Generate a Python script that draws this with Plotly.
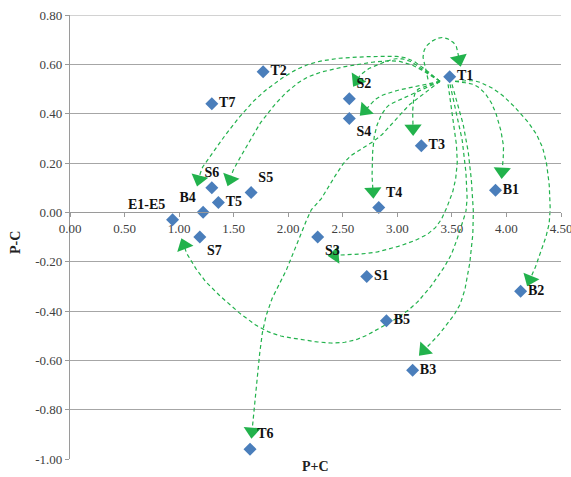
import numpy as np
import plotly.graph_objects as go

# ---- data ----
labels = ["T1", "T2", "T7", "S2", "S4", "T3", "B1", "T4", "S6", "S5", "T5", "B4",
          "E1-E5", "S7", "S3", "S1", "B2", "B5", "B3", "T6"]
p_plus_c = [3.48, 1.77, 1.30, 2.56, 2.56, 3.22, 3.90, 2.83, 1.30, 1.66, 1.36, 1.22,
            0.94, 1.19, 2.27, 2.72, 4.13, 2.90, 3.14, 1.65]
p_minus_c = [0.55, 0.57, 0.44, 0.46, 0.38, 0.27, 0.09, 0.02, 0.10, 0.08, 0.04, 0.00,
             -0.03, -0.10, -0.10, -0.26, -0.32, -0.44, -0.64, -0.96]
label_pos = ["middle right", "middle right", "middle right", "top right", "bottom right",
             "middle right", "middle right", "top right", "top center", "top right",
             "middle right", "top left", "top left", "bottom right", "bottom right",
             "middle right", "middle right", "middle right", "middle right", "top right"]

x_ticks = [0, 0.5, 1, 1.5, 2, 2.5, 3, 3.5, 4, 4.5]
y_ticks = [-1.0, -0.8, -0.6, -0.4, -0.2, 0.0, 0.2, 0.4, 0.6, 0.8]

# influence arrows from T1 (waypoints in data units, smoothed)
arrows = {
    "T1": [(3.281, 0.539), (3.236, 0.628), (3.281, 0.681), (3.410, 0.709), (3.529, 0.681), (3.566, 0.620)],
    "B4": [(3.391, 0.531), (3.116, 0.620), (2.841, 0.632), (2.383, 0.620), (2.081, 0.580), (1.769, 0.486),
           (1.558, 0.389), (1.375, 0.284), (1.219, 0.186), (1.182, 0.134)],
    "T5": [(3.391, 0.531), (3.116, 0.600), (2.841, 0.612), (2.291, 0.567), (2.016, 0.499), (1.769, 0.377),
           (1.622, 0.268), (1.512, 0.186), (1.467, 0.134)],
    "S2": [(3.391, 0.531), (3.071, 0.620), (2.823, 0.600), (2.676, 0.563), (2.631, 0.535)],
    "S4": [(3.391, 0.531), (3.116, 0.507), (2.841, 0.470), (2.704, 0.413)],
    "T3": [(3.391, 0.531), (3.190, 0.499), (3.144, 0.438), (3.144, 0.340)],
    "T4": [(3.391, 0.531), (3.025, 0.458), (2.887, 0.418), (2.796, 0.324), (2.768, 0.186), (2.777, 0.085)],
    "T6": [(3.391, 0.531), (3.116, 0.438), (2.841, 0.308), (2.539, 0.215), (2.319, 0.065), (2.200, 0.000),
           (2.016, -0.203), (1.861, -0.340), (1.769, -0.474), (1.714, -0.677), (1.677, -0.839), (1.668, -0.888)],
    "B1": [(3.529, 0.531), (3.731, 0.511), (3.877, 0.430), (3.969, 0.284), (3.960, 0.166)],
    "B2": [(3.529, 0.531), (3.758, 0.527), (4.033, 0.446), (4.326, 0.268), (4.400, 0.000), (4.308, -0.170),
           (4.216, -0.272)],
    "B3": [(3.501, 0.519), (3.593, 0.377), (3.666, 0.186), (3.694, -0.069), (3.602, -0.340), (3.419, -0.474),
           (3.245, -0.559)],
    "S3": [(3.465, 0.519), (3.529, 0.324), (3.547, 0.186), (3.483, 0.053), (3.300, -0.081), (2.841, -0.158),
           (2.429, -0.174)],
    "E1-E5": [(3.483, 0.519), (3.593, 0.296), (3.639, 0.053), (3.575, -0.069), (3.456, -0.203), (3.181, -0.365),
              (2.869, -0.462), (2.566, -0.523), (2.227, -0.523), (1.769, -0.474), (1.311, -0.312),
              (1.100, -0.191), (1.045, -0.134)],
}

GREEN = "#22b24c"
BLUE = "#4a7ebb"
XR = [0, 4.5]
YR = [-1.0, 0.8]
# approximate pixel scale, used for smoothing and arrowhead angles
SX, SY = 109.1, 246.7


def catmull_rom(pts, n=20):
    p = np.array([[a * SX, b * SY] for a, b in pts], dtype=float)
    p = np.vstack([p[0] - (p[1] - p[0]), p, p[-1] + (p[-1] - p[-2])])
    out = []
    for i in range(1, len(p) - 2):
        p0, p1, p2, p3 = p[i - 1], p[i], p[i + 1], p[i + 2]
        for t in np.linspace(0, 1, n, endpoint=False):
            t2, t3 = t * t, t * t * t
            out.append(0.5 * ((2 * p1) + (-p0 + p2) * t + (2 * p0 - 5 * p1 + 4 * p2 - p3) * t2
                              + (-p0 + 3 * p1 - 3 * p2 + p3) * t3))
    out.append(p[-2])
    out = np.array(out)
    return out[:, 0] / SX, out[:, 1] / SY


fig = go.Figure()

head_x, head_y, head_ang = [], [], []
for name, pts in arrows.items():
    cx, cy = catmull_rom(pts)
    fig.add_trace(go.Scatter(x=cx, y=cy, mode="lines",
                             line=dict(color=GREEN, width=1.2, dash="4px,3px"),
                             hoverinfo="skip", showlegend=False))
    dx = (cx[-1] - cx[-4]) * SX
    dy = (cy[-1] - cy[-4]) * SY
    head_x.append(cx[-1])
    head_y.append(cy[-1])
    head_ang.append(float(np.degrees(np.arctan2(dx, dy))))

fig.add_trace(go.Scatter(x=head_x, y=head_y, mode="markers",
                         marker=dict(symbol="triangle-up", size=15, color=GREEN,
                                     angle=head_ang, line=dict(width=0)),
                         hoverinfo="skip", showlegend=False))

fig.add_trace(go.Scatter(
    x=p_plus_c, y=p_minus_c, mode="markers+text", text=labels, textposition=label_pos,
    marker=dict(symbol="diamond", size=10, color=BLUE),
    textfont=dict(family="Liberation Serif", size=14, color="#111111", weight="bold"),
    showlegend=False, cliponaxis=False))

y_zero_frac = (0 - YR[0]) / (YR[1] - YR[0])

fig.update_layout(
    width=571, height=477,
    margin=dict(l=70, r=10, t=15, b=18, autoexpand=False),
    paper_bgcolor="white", plot_bgcolor="white",
    font=dict(family="Liberation Serif", size=13, color="#404040"),
    xaxis=dict(range=XR, tickvals=x_ticks, ticktext=[f"{v:.2f}" for v in x_ticks],
               showgrid=False, zeroline=False, showline=True, linecolor="#9a9a9a", linewidth=1.2,
               ticks="outside", ticklen=4, tickcolor="#9a9a9a", ticklabeloverflow="allow",
               automargin=False, anchor="free", position=y_zero_frac),
    yaxis=dict(range=YR, tickvals=y_ticks, ticktext=[f"{v:.2f}" for v in y_ticks],
               showgrid=True, gridcolor="#a6a6a6", gridwidth=1.2, zeroline=False,
               showline=True, linecolor="#9a9a9a", linewidth=1.2, ticklabeloverflow="allow",
               automargin=False, ticks="outside", ticklen=4, tickcolor="#9a9a9a"),
    shapes=[dict(type="line", xref="paper", yref="y", x0=0, x1=1, y0=YR[1], y1=YR[1],
                 line=dict(color="#a6a6a6", width=1.2), layer="below")],
    annotations=[
        dict(text="<b>P+C</b>", xref="paper", yref="paper", x=0.5, y=0, yshift=-17,
             showarrow=False, font=dict(family="Liberation Serif", size=14, color="#222222")),
        dict(text="<b>P-C</b>", xref="paper", yref="paper", x=0, y=0.5, xanchor="center",
             xshift=-55, yshift=-6, textangle=-90,
             showarrow=False, font=dict(family="Liberation Serif", size=14, color="#222222")),
    ],
)

fig.write_html("out.html", config={"displayModeBar": False},
               post_script="document.body.style.margin='0';document.body.style.overflow='hidden';")
